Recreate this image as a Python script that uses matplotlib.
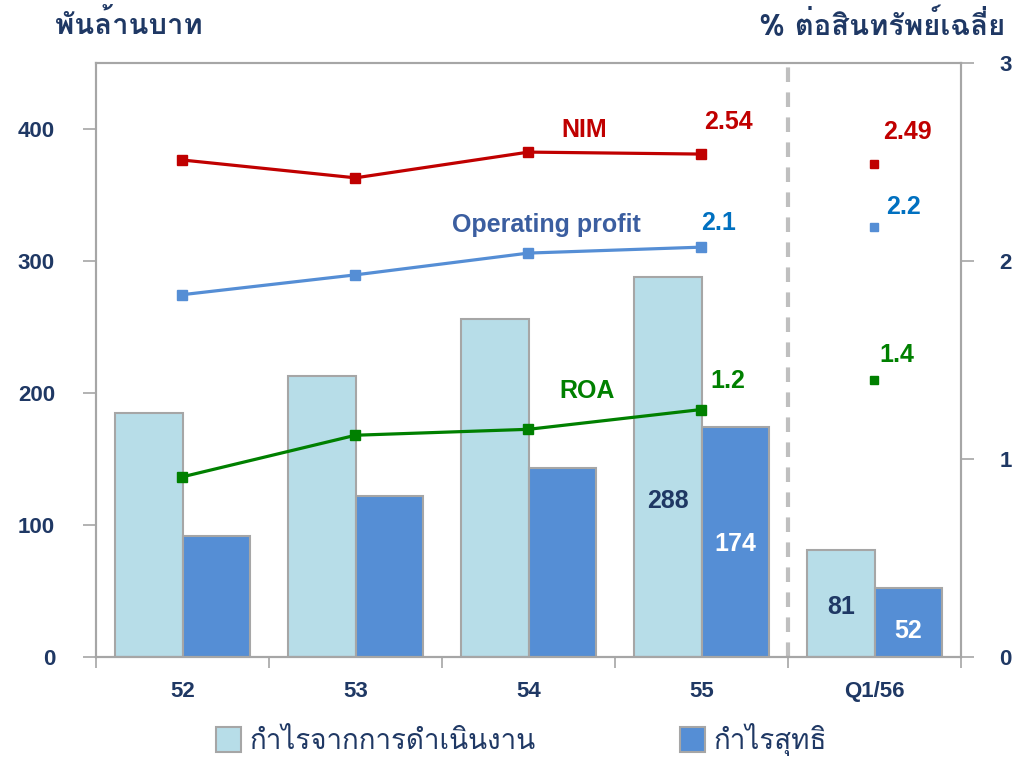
import matplotlib
matplotlib.use("Agg")
import matplotlib.pyplot as plt
from matplotlib import font_manager
from matplotlib.ft2font import FT2Font
from matplotlib.patches import Patch

# data
years = ["52", "53", "54", "55", "Q1/56"]
op_income = [185, 213, 256, 288, 81]      # light bars
net_profit = [92, 122, 143, 174, 52]      # dark bars
nim = [2.51, 2.42, 2.55, 2.54]
nim_q1 = 2.49
op_profit = [1.83, 1.93, 2.04, 2.07]
op_profit_q1 = 2.17
roa = [0.91, 1.12, 1.15, 1.25]
roa_q1 = 1.40

# pick a font that has Thai glyphs
thai_font = None
for f in font_manager.fontManager.ttflist:
    try:
        if ord("ก") in FT2Font(f.fname).get_charmap():
            thai_font = f.name
            break
    except Exception:
        pass
fams = [thai_font, "DejaVu Sans"] if thai_font else ["DejaVu Sans"]
plt.rcParams["font.family"] = ["Liberation Sans"] + fams

navy = "#1F3864"
grey = "#A6A6A6"

fig = plt.figure(figsize=(10.18, 7.59), dpi=100)
ax = fig.add_axes([96/1018, 102/759, 865/1018, 594/759])
ax2 = ax.twinx()

x = list(range(len(years)))
w = 0.39
ax.bar([i - w/2 for i in x], op_income, w, color="#B7DDE8", edgecolor=grey, linewidth=1.5, zorder=2)
ax.bar([i + w/2 for i in x], net_profit, w, color="#558ED5", edgecolor=grey, linewidth=1.5, zorder=2)

ax.set_xlim(-0.5, 4.5)
ax.set_ylim(0, 450)
ax2.set_ylim(0, 3)
ax.set_yticks([0, 100, 200, 300, 400])
ax2.set_yticks([0, 1, 2, 3])
ax.set_xticks(x)
ax.set_xticklabels(years)
ax.set_xticks([i - 0.5 for i in range(6)], minor=True)
ax.tick_params(axis="x", which="major", length=0, pad=17, labelsize=16, labelcolor=navy)
ax.tick_params(axis="x", which="minor", length=8, width=1.2, color=grey)
ax.tick_params(axis="y", length=9.5, width=1.2, color=grey, pad=20, labelsize=16, labelcolor=navy)
ax2.tick_params(axis="y", length=9.5, width=1.2, color=grey, pad=18, labelsize=16, labelcolor=navy)
for a in (ax, ax2):
    for lab in a.get_xticklabels() + a.get_yticklabels():
        lab.set_fontweight("bold")
    for s in a.spines.values():
        s.set_color(grey)
        s.set_linewidth(1.5)
ax.spines["bottom"].set_color("#8C8C8C")

ax.axvline(3.5, color="#BFBFBF", linewidth=3, dashes=(3.5, 2.5), zorder=1)

# lines on right axis
xl = x[:4]
ax2.plot(xl, nim, color="#C00000", linewidth=2.3, marker="s", markersize=7, zorder=5)
ax2.plot(xl, op_profit, color="#558ED5", linewidth=2.3, marker="s", markersize=7, zorder=5)
ax2.plot(xl, roa, color="#008000", linewidth=2.3, marker="s", markersize=7, zorder=5)
ax2.plot([4], [nim_q1], color="#C00000", marker="s", markersize=6, linestyle="none")
ax2.plot([4], [op_profit_q1], color="#558ED5", marker="s", markersize=6, linestyle="none")
ax2.plot([4], [roa_q1], color="#008000", marker="s", markersize=6, linestyle="none")

def lab(a, txt, xy, off, color, size=18):
    a.annotate(txt, xy, xytext=off, textcoords="offset pixels", ha="center", va="center",
               color=color, fontsize=size, fontweight="bold")

lab(ax2, "NIM", (2, nim[2]), (56, 22), "#C00000")
lab(ax2, "Operating profit", (2, op_profit[2]), (18, 28), "#3B5EA0")
lab(ax2, "ROA", (2, roa[2]), (59, 38), "#008000")
lab(ax2, "2.54", (3, nim[3]), (27, 32), "#C00000")
lab(ax2, "2.1", (3, op_profit[3]), (17, 24), "#0070C0")
lab(ax2, "1.2", (3, roa[3]), (26, 28), "#008000")
lab(ax2, "2.49", (4, nim_q1), (33, 32), "#C00000")
lab(ax2, "2.2", (4, op_profit_q1), (29, 20), "#0070C0")
lab(ax2, "1.4", (4, roa_q1), (22, 25), "#008000")

# bar value labels
ax.text(3 - w/2, op_income[3] * 0.41, "288", ha="center", va="center", color=navy, fontsize=18, fontweight="bold", zorder=6)
ax.text(3 + w/2, net_profit[3] * 0.49, "174", ha="center", va="center", color="white", fontsize=18, fontweight="bold", zorder=6)
ax.text(4 - w/2, op_income[4] * 0.47, "81", ha="center", va="center", color=navy, fontsize=18, fontweight="bold", zorder=6)
ax.text(4 + w/2, net_profit[4] * 0.38, "52", ha="center", va="center", color="white", fontsize=18, fontweight="bold", zorder=6)

ax.set_zorder(ax2.get_zorder() - 1)
ax.patch.set_visible(True)
ax2.patch.set_visible(False)

fig.text(55/1018, 1 - 25/759, "พันล้านบาท", ha="left", va="center", fontsize=21,
         fontweight="bold", color=navy, family=fams)
fig.text(1005/1018, 1 - 25/759, "% ต่อสินทรัพย์เฉลี่ย", ha="right", va="center", fontsize=21,
         fontweight="bold", color=navy, family=fams)

handles = [Patch(facecolor="#B7DDE8", edgecolor=grey, linewidth=1.5),
           Patch(facecolor="#558ED5", edgecolor=grey, linewidth=1.5)]
leg = fig.legend(handles, ["กำไรจากการดำเนินงาน", "กำไรสุทธิ"], loc="center",
                 bbox_to_anchor=(0.512, 0.026), ncol=2, frameon=False, handlelength=0.9,
                 handleheight=1.0, columnspacing=5.2, handletextpad=0.3,
                 prop={"family": fams, "size": 20})
for t in leg.get_texts():
    t.set_color(navy)

fig.savefig("out.png", dpi=100)
